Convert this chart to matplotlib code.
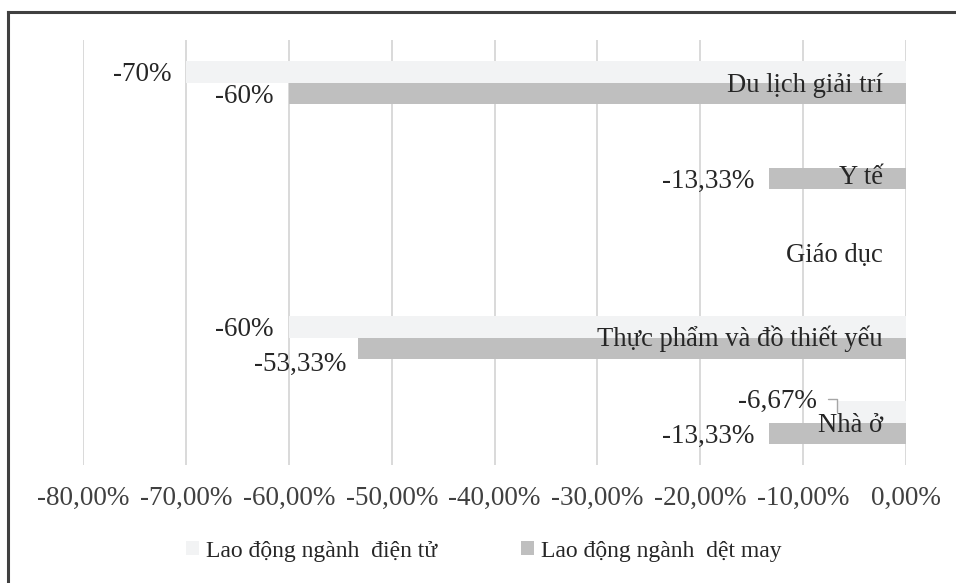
import matplotlib
matplotlib.use("Agg")
import matplotlib.pyplot as plt
from matplotlib.lines import Line2D
from matplotlib.patches import Patch

# Data
categories = ["Du lịch giải trí", "Y tế", "Giáo dục", "Thực phẩm và đồ thiết yếu", "Nhà ở"]
dien_tu = [-70.0, 0.0, 0.0, -60.0, -6.67]     # Lao động ngành điện tử
det_may = [-60.0, -13.33, 0.0, -53.33, -13.33]  # Lao động ngành dệt may
series_names = ["Lao động ngành  điện tử", "Lao động ngành  dệt may"]
x_ticks = [-80, -70, -60, -50, -40, -30, -20, -10, 0]
x_tick_labels = ["-80,00%", "-70,00%", "-60,00%", "-50,00%", "-40,00%",
                 "-30,00%", "-20,00%", "-10,00%", "0,00%"]

# Styling
FONT = "Liberation Serif"
LIGHT = "#F2F3F4"
DARK = "#BFBFBF"
GRID = "#D9D9D9"
TEXT = "#262626"
BAR_H = 0.25

plt.rcParams["font.family"] = [FONT, "DejaVu Serif"]

W, H = 956, 583
fig = plt.figure(figsize=(W / 100, H / 100), dpi=100)
ax = fig.add_axes([83.3 / W, 1 - 465 / H, (906 - 83.3) / W, (465 - 40) / H])

ypos = list(range(len(categories)))
ax.barh([y - BAR_H / 2 for y in ypos], dien_tu, height=BAR_H, color=LIGHT,
        zorder=2)
ax.barh([y + BAR_H / 2 for y in ypos], det_may, height=BAR_H, color=DARK,
        zorder=2)

ax.set_xlim(-80, 0)
ax.set_ylim(len(categories) - 0.5, -0.5)
ax.set_xticks(x_ticks)
ax.set_xticklabels(x_tick_labels, fontsize=19.5, color="#404040")
ax.tick_params(axis="x", length=0, pad=15)
ax.set_yticks([])
ax.grid(axis="x", color=GRID, linewidth=1.4, zorder=0)
ax.set_axisbelow(True)
for s in ax.spines.values():
    s.set_visible(False)


def fmt(v):
    if abs(v - round(v)) < 1e-9:
        return f"{int(round(v))}%"
    return f"{v:.2f}%".replace(".", ",")


# Value labels: offset in pixels (dx from bar end, dy of baseline from bar centre)
default_off = (-15, -9.5)
special_off = {("dt", 4): (-21, 3.8), ("dm", 3): (-11.6, -22.5)}

for key, vals, dy in (("dt", dien_tu, -BAR_H / 2), ("dm", det_may, BAR_H / 2)):
    for i, v in enumerate(vals):
        if v == 0:
            continue
        off = special_off.get((key, i), default_off)
        kw = {}
        if (key, i) == ("dt", 4):
            kw["arrowprops"] = dict(arrowstyle="-", color="#A6A6A6", lw=1.0,
                                    shrinkA=6, shrinkB=0, relpos=(1, 0.62),
                                    connectionstyle="angle,angleA=0,angleB=90,rad=0")
        ax.annotate(fmt(v), xy=(v, i + dy), xytext=off,
                    textcoords="offset pixels", ha="right", va="baseline",
                    fontsize=19.5, color=TEXT, zorder=4, **kw)

# Category labels sit inside the plot next to the zero line
cat_dy = {1: -17}
for i, name in enumerate(categories):
    ax.annotate(name, xy=(0, i), xytext=(-23, cat_dy.get(i, -9)),
                textcoords="offset pixels", ha="right", va="baseline",
                fontsize=19.2, color=TEXT, zorder=5)

# Legend
handles = [Patch(facecolor=LIGHT, edgecolor="none"),
           Patch(facecolor=DARK, edgecolor="none")]
fig.legend(handles, series_names, loc="center",
           bbox_to_anchor=(0.506, 1 - 551 / H),
           ncol=2, frameon=False, fontsize=17, handlelength=0.55,
           handleheight=0.55, handletextpad=0.3, columnspacing=3.55,
           labelcolor=TEXT)

# Outer frame of the chart area
fx = 7.5 / W
fy = 1 - 11.5 / H
fig.add_artist(Line2D([fx, fx], [-0.05, fy], transform=fig.transFigure,
                      color="#404040", lw=2.2))
fig.add_artist(Line2D([fx, 1.05], [fy, fy], transform=fig.transFigure,
                      color="#404040", lw=2.2))

fig.savefig("out.png", dpi=100)
